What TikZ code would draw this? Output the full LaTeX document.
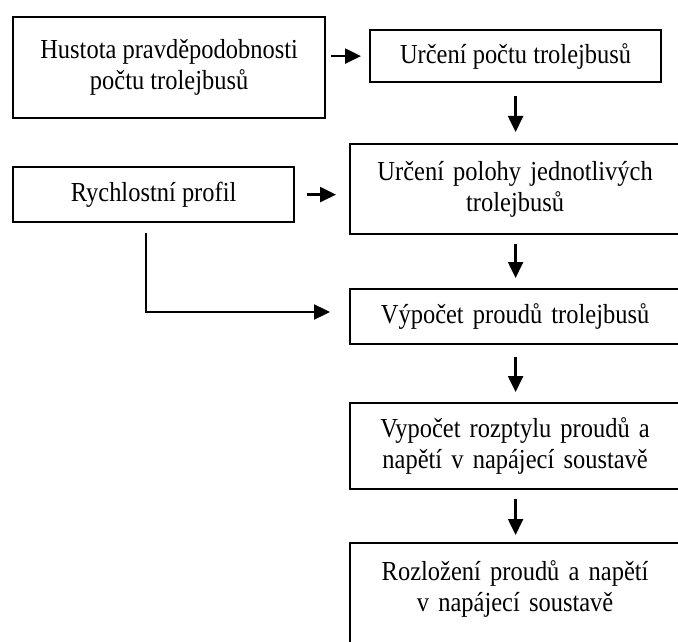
\documentclass[tikz,border=0pt]{standalone}
\usepackage{fontspec}
\setmainfont[FakeStretch=0.89]{Liberation Serif}
\usetikzlibrary{arrows.meta}
\tikzset{
  boxnode/.style={draw, line width=2.2pt, rectangle, anchor=north west, inner sep=0pt,
    align=center, font=\fontsize{27.5}{31}\selectfont},
  arr/.style={line width=2.4pt, -{Triangle[length=16pt,width=15pt]}}
}
\begin{document}
\begin{tikzpicture}[x=1pt,y=-1pt]
\useasboundingbox (0,0) rectangle (678,642);
\clip (0,0) rectangle (678,642);
% boxes: (left,top), width, height
\node[boxnode, minimum width=312pt, minimum height=101pt] (b1) at (12,16)
  {Hustota pravděpodobnosti\\počtu trolejbusů};
\node[boxnode, minimum width=291pt, minimum height=52pt] (b2) at (369,29)
  {Určení počtu trolejbusů};
\node[boxnode, minimum width=281pt, minimum height=55pt] (rych) at (12,166)
  {Rychlostní profil};
\node[boxnode, minimum width=350pt, minimum height=90pt, text width=330pt] (b3) at (349,143)
  {\hspace*{-20pt}Určení polohy jednotlivých\\\hspace*{-20pt}trolejbusů};
\node[boxnode, minimum width=350pt, minimum height=55pt, text width=330pt] (b4) at (349,288)
  {\hspace*{-20pt}Výpočet proudů trolejbusů};
\node[boxnode, minimum width=350pt, minimum height=86pt, text width=330pt] (b5) at (349,402)
  {\hspace*{-20pt}Vypočet rozptylu proudů a\\\hspace*{-20pt}napětí v napájecí soustavě};
\node[boxnode, minimum width=350pt, minimum height=126pt, text width=330pt] (b6) at (349,542)
  {\hspace*{-20pt}Rozložení proudů a napětí\\\hspace*{-20pt}v napájecí soustavě\\ \strut};
% connectors
\draw[arr, shorten <=5pt, shorten >=8pt] (b1.east |- b2.west) -- (b2.west);
\draw[arr, shorten <=13pt, shorten >=11pt] (b2.south) -- (b2.south |- b3.north);
\draw[arr, shorten <=12pt, shorten >=13pt] (rych.east) -- (rych.east -| b3.west);
\coordinate (lstart) at (146,233);
\coordinate (lend) at (349,312);
\draw[arr, shorten >=19pt] (lstart) |- (lend);
\draw[arr, shorten <=9pt, shorten >=10pt] (b3.south -| b2.south) -- (b4.north -| b2.south);
\draw[arr, shorten <=12pt, shorten >=10pt] (b4.south -| b2.south) -- (b5.north -| b2.south);
\draw[arr, shorten <=9pt, shorten >=7pt] (b5.south -| b2.south) -- (b6.north -| b2.south);
\end{tikzpicture}
\end{document}
